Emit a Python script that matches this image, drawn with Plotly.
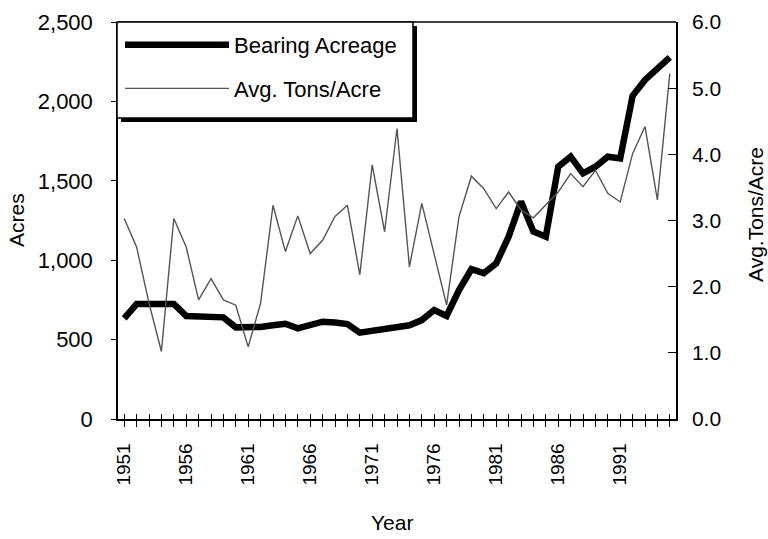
import plotly.graph_objects as go

years = list(range(1951, 1996))
bearing_acreage = [634, 724, 724, 724, 724, 649, 649, 649, 640, 577,
                   577, 580, 590, 600, 571, 592, 613, 607, 598, 544,
                   556, 560, 581, 590, 623, 686, 649, 812, 943, 918,
                   980, 1148, 1369, 1180, 1148, 1589, 1652, 1547, 1589, 1652,
                   1641, 2035, 2135, 2208, 2277]
avg_tons_per_acre = [3.03, 2.60, 1.75, 1.02, 3.03, 2.60, 1.80, 2.12, 1.80, 1.72,
                     1.09, 1.75, 3.23, 2.53, 3.07, 2.50, 2.70, 3.06, 3.23, 2.18,
                     3.84, 2.83, 4.39, 2.30, 3.26, 2.50, 1.72, 3.06, 3.67, 3.48,
                     3.18, 3.43, 3.16, 3.04, 3.23, 3.43, 3.71, 3.51, 3.76, 3.41,
                     3.28, 4.01, 4.42, 3.31, 5.22]
tick_years = [1951, 1956, 1961, 1966, 1971, 1976, 1981, 1986, 1991]

FONT = "Liberation Sans, Arial, sans-serif"
L, R, T, B = 118, 92, 22, 120
W, H = 768, 539
PW, PH = W - L - R, H - T - B


def px_x(px):
    return (px - L) / PW


def px_y(py):
    return (H - B - py) / PH


fig = go.Figure()
fig.add_trace(go.Scatter(x=years, y=bearing_acreage, name="Bearing Acreage",
                         legendgroup="a", mode="lines",
                         line=dict(color="black", width=6.5),
                         xaxis="x", yaxis="y"))
fig.add_trace(go.Scatter(x=years, y=avg_tons_per_acre, name="Avg. Tons/Acre",
                         legendgroup="b", mode="lines",
                         line=dict(color="#555555", width=1.4),
                         xaxis="x", yaxis="y2"))
# invisible trace for inner tick overlay axis
fig.add_trace(go.Scatter(x=[years[0]], y=[0], mode="lines", showlegend=False,
                         hoverinfo="skip", line=dict(width=0), xaxis="x2", yaxis="y"))

ticktext = [str(y) if y in tick_years else "" for y in years]

fig.update_layout(
    width=W, height=H,
    margin=dict(l=L, r=R, t=T, b=B, pad=0, autoexpand=False),
    paper_bgcolor="white", plot_bgcolor="white",
    font=dict(family=FONT, color="black", size=20),
    showlegend=True,
    legend=dict(x=px_x(120), y=px_y(24), xanchor="left", yanchor="top",
                bgcolor="rgba(0,0,0,0)", borderwidth=0,
                font=dict(size=22, family=FONT), itemwidth=104,
                tracegroupgap=12),
    xaxis=dict(range=[1950.5, 1995.5], tickmode="array", tickvals=years,
               ticktext=ticktext, tickangle=-90, ticks="outside", ticklen=6,
               tickcolor="black", tickwidth=1, showline=True, linecolor="black",
               linewidth=1.5, mirror=False, showgrid=False, zeroline=False,
               tickfont=dict(size=19), ticklabelstandoff=9, automargin=False),
    xaxis2=dict(range=[1950.5, 1995.5], overlaying="x", side="bottom",
                tickmode="array", tickvals=years, showticklabels=False,
                ticks="inside", ticklen=5, tickcolor="black", tickwidth=1,
                showline=False, showgrid=False, zeroline=False, automargin=False),
    yaxis=dict(range=[0, 2500], tickmode="linear", tick0=0, dtick=500,
               tickformat=",", ticks="outside", ticklen=5, tickcolor="black",
               showline=True, linecolor="black", linewidth=1.5, showgrid=False,
               zeroline=False, ticklabelstandoff=14, tickfont=dict(size=22),
               automargin=False),
    yaxis2=dict(range=[0, 6], tickmode="linear", tick0=0, dtick=1,
                tickformat=".1f", overlaying="y", side="right",
                ticks="inside", ticklen=8, tickcolor="black",
                showline=True, linecolor="black", linewidth=1.5, showgrid=False,
                zeroline=False, ticklabelstandoff=10, tickfont=dict(size=21),
                automargin=False),
    shapes=[
        dict(type="line", xref="paper", yref="paper", x0=0, x1=1, y0=1, y1=1,
             line=dict(color="black", width=1.5)),
        # legend drop shadow
        dict(type="rect", xref="paper", yref="paper", layer="above",
             x0=px_x(121), x1=px_x(417), y0=px_y(122), y1=px_y(26),
             fillcolor="black", line=dict(width=0)),
        # legend box
        dict(type="rect", xref="paper", yref="paper", layer="above",
             x0=px_x(117), x1=px_x(413), y0=px_y(118), y1=px_y(22),
             fillcolor="white", line=dict(color="black", width=1.5)),
    ],
    annotations=[
        dict(text="Acres", xref="paper", yref="paper", x=px_x(17), y=px_y(220),
             textangle=-90, showarrow=False, font=dict(size=21),
             xanchor="center", yanchor="middle"),
        dict(text="Avg.Tons/Acre", xref="paper", yref="paper", x=px_x(755),
             y=px_y(215), textangle=-90, showarrow=False, font=dict(size=21),
             xanchor="center", yanchor="middle"),
        dict(text="Year", xref="paper", yref="paper", x=px_x(392), y=px_y(522),
             showarrow=False, font=dict(size=21),
             xanchor="center", yanchor="middle"),
    ],
)

fig.write_html("out.html",
               config={"displayModeBar": False},
               post_script="document.body.style.margin='0px';"
                           "document.body.style.overflow='hidden';")
